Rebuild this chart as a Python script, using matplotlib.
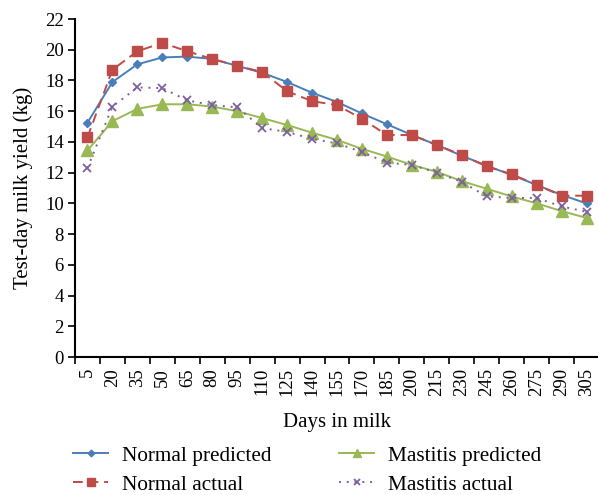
import numpy as np
import matplotlib
matplotlib.use("Agg")
import matplotlib.pyplot as plt
from matplotlib.ticker import FixedLocator

days = [5, 20, 35, 50, 65, 80, 95, 110, 125, 140, 155, 170, 185, 200, 215, 230, 245, 260, 275, 290, 305]
normal_predicted = [15.25, 17.9, 19.05, 19.5, 19.55, 19.4, 18.95, 18.5, 17.9, 17.2, 16.6, 15.85, 15.15, 14.45, 13.8, 13.1, 12.45, 11.85, 11.2, 10.55, 10.0]
normal_actual = [14.3, 18.7, 19.9, 20.45, 19.9, 19.4, 18.95, 18.55, 17.3, 16.65, 16.4, 15.5, 14.45, 14.45, 13.8, 13.15, 12.4, 11.9, 11.2, 10.5, 10.5]
mastitis_predicted = [13.45, 15.35, 16.15, 16.45, 16.45, 16.3, 16.0, 15.55, 15.1, 14.6, 14.13, 13.55, 13.05, 12.5, 12.05, 11.45, 10.95, 10.45, 10.0, 9.5, 9.05]
mastitis_actual = [12.3, 16.3, 17.55, 17.5, 16.7, 16.4, 16.25, 14.9, 14.65, 14.2, 13.9, 13.35, 12.65, 12.5, 12.0, 11.4, 10.45, 10.35, 10.35, 9.8, 9.45]
y_ticks = list(range(0, 23, 2))

plt.rcParams['font.family'] = ['Liberation Serif', 'DejaVu Serif']

fig = plt.figure(figsize=(5.98, 4.95), dpi=100)
ax = fig.add_axes([75/598, 1-357/495, 524/598, (357-19)/495])

x = np.arange(len(days))
ax.plot(x, normal_predicted, color='#4A7EBB', lw=1.4, ls='-', marker='D', ms=4.5,
        label='Normal predicted')
ax.plot(x, normal_actual, color='#BE4B48', lw=1.4, ls=(0, (5, 3)), marker='s', ms=7.5,
        label='Normal actual')
ax.plot(x, mastitis_predicted, color='#98B954', lw=1.4, ls='-', marker='^', ms=8,
        label='Mastitis predicted')
ax.plot(x, mastitis_actual, color='#7D60A0', lw=1.4, ls=(0, (1, 3)), marker='x', ms=6,
        mew=1.3, label='Mastitis actual')

ax.set_xlim(-0.5, len(days) - 0.5)
ax.set_ylim(0, 22)
ax.set_yticks(y_ticks)
ax.set_yticklabels([str(v) for v in y_ticks], fontsize=13.5)
ax.set_xticks(x)
ax.set_xticklabels([str(d) for d in days], rotation=90, fontsize=13.5)
ax.tick_params(axis='x', which='major', length=0, pad=8)
ax.xaxis.set_minor_locator(FixedLocator(np.arange(-0.5, len(days), 1.0)))
ax.tick_params(axis='x', which='minor', length=5, width=1.2, direction='out')
ax.tick_params(axis='y', which='major', length=5, width=1.2, direction='out', pad=3)

for s in ['top', 'right']:
    ax.spines[s].set_visible(False)
for s in ['left', 'bottom']:
    ax.spines[s].set_linewidth(1.5)

ax.set_xlabel('Days in milk', fontsize=15, labelpad=12)
ax.set_ylabel('Test-day milk yield (kg)', fontsize=15, labelpad=9)

fig.legend(loc='upper left', bbox_to_anchor=(73/598, 1-446/495), ncol=2, frameon=False,
           fontsize=15.3, columnspacing=3.2, handlelength=1.65, handletextpad=0.64,
           labelspacing=0.42, borderpad=0, borderaxespad=0, markerscale=0.75)

fig.savefig('out.png', dpi=100)
